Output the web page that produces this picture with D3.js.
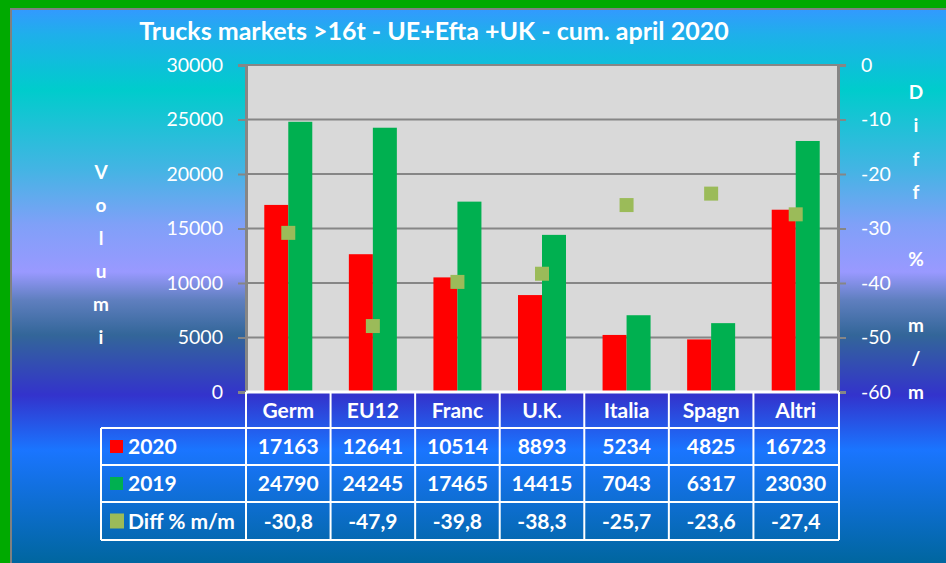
<!DOCTYPE html>
<html lang="en">
  <head>
    <meta charset="UTF-8" />
    <title>Trucks markets</title>
    <script src="https://cdn.jsdelivr.net/npm/d3@7/dist/d3.min.js"></script>
    <style>
      body { margin: 0; background: #00aa00; }
      svg { display: block; font-family: Lato, "Open Sans", sans-serif; }
    </style>
  </head>
  <body>
    <svg width="946" height="563"></svg>
    <script>
      // data
      const categories = ["Germ", "EU12", "Franc", "U.K.", "Italia", "Spagn", "Altri"];
      const vals2020 = [17163, 12641, 10514, 8893, 5234, 4825, 16723];
      const vals2019 = [24790, 24245, 17465, 14415, 7043, 6317, 23030];
      const diffPct = [-30.8, -47.9, -39.8, -38.3, -25.7, -23.6, -27.4];
      const diffLabels = ["-30,8", "-47,9", "-39,8", "-38,3", "-25,7", "-23,6", "-27,4"];
      const leftTicks = [0, 5000, 10000, 15000, 20000, 25000, 30000];
      const rightTicks = [0, -10, -20, -30, -40, -50, -60];

      const svg = d3.select("svg");
      const plot = { x0: 246, x1: 838, y0: 65, y1: 392 };

      // background gradient
      const defs = svg.append("defs");
      const grad = defs.append("linearGradient").attr("id", "bg")
        .attr("gradientUnits", "userSpaceOnUse")
        .attr("x1", 0).attr("y1", 9).attr("x2", 0).attr("y2", 563);
      [[9, "#3399ff"], [35, "#1eb0ea"], [90, "#00cccc"], [170, "#44b4e4"], [225, "#80a0f8"],
       [272, "#9999ff"], [300, "#5f7fbf"], [335, "#336699"], [395, "#3333cc"], [450, "#1a75ff"],
       [563, "#00669f"]].forEach(s => grad.append("stop").attr("offset", (s[0] - 9) / 554).attr("stop-color", s[1]));

      svg.append("rect").attr("x", 11).attr("y", 9).attr("width", 946).attr("height", 563)
        .attr("fill", "url(#bg)").attr("stroke", "#808080").attr("stroke-width", 2);

      // title
      svg.append("text").attr("x", 434).attr("y", 40).attr("text-anchor", "middle")
        .attr("fill", "#fff").attr("font-weight", "bold").attr("font-size", 25)
        .text("Trucks markets >16t - UE+Efta +UK - cum. april 2020");

      const x = d3.scaleBand().domain(categories).range([plot.x0, plot.x1]);
      const yL = d3.scaleLinear().domain([0, 30000]).range([plot.y1, plot.y0]);
      const yR = d3.scaleLinear().domain([-60, 0]).range([plot.y1, plot.y0]);

      svg.append("rect").attr("x", plot.x0).attr("y", plot.y0)
        .attr("width", plot.x1 - plot.x0).attr("height", plot.y1 - plot.y0).attr("fill", "#d9d9d9");

      // grid
      svg.append("g").selectAll("line").data(leftTicks.slice(1)).join("line")
        .attr("x1", plot.x0).attr("x2", plot.x1).attr("y1", d => yL(d)).attr("y2", d => yL(d))
        .attr("stroke", "#868686").attr("stroke-width", 2);

      // axes
      const axL = svg.append("g").attr("transform", `translate(${plot.x0},0)`)
        .call(d3.axisLeft(yL).tickValues(leftTicks).tickSize(8).tickPadding(15).tickFormat(d3.format("d")));
      const axR = svg.append("g").attr("transform", `translate(${plot.x1},0)`)
        .call(d3.axisRight(yR).tickValues(rightTicks).tickSize(8).tickPadding(15).tickFormat(d => d));
      [axL, axR].forEach(a => {
        a.select(".domain").attr("stroke", "#868686").attr("stroke-width", 3);
        a.selectAll(".tick line").attr("stroke", "#868686").attr("stroke-width", 2);
        a.selectAll("text").attr("fill", "#fff").attr("font-size", 19.5).attr("font-family", "Lato, sans-serif");
      });

      // bars
      const bw = 24;
      svg.append("g").selectAll("rect").data(vals2020).join("rect")
        .attr("x", (d, i) => x(categories[i]) + x.bandwidth() / 2 - bw)
        .attr("y", d => yL(d)).attr("width", bw).attr("height", d => plot.y1 - yL(d))
        .attr("fill", "#ff0000");
      svg.append("g").selectAll("rect").data(vals2019).join("rect")
        .attr("x", (d, i) => x(categories[i]) + x.bandwidth() / 2)
        .attr("y", d => yL(d)).attr("width", bw).attr("height", d => plot.y1 - yL(d))
        .attr("fill", "#00b050");

      // diff markers
      svg.append("g").selectAll("rect").data(diffPct).join("rect")
        .attr("x", (d, i) => x(categories[i]) + x.bandwidth() / 2 - 7)
        .attr("y", d => yR(d) - 7).attr("width", 14).attr("height", 14)
        .attr("fill", "#9bbb59");

      // axis titles, letters stacked
      svg.append("g").selectAll("text").data("Volumi".split("")).join("text")
        .attr("x", 101).attr("y", (d, i) => 179 + i * 33).attr("text-anchor", "middle")
        .attr("fill", "#fff").attr("font-weight", "bold").attr("font-size", 19).text(d => d);
      svg.append("g").selectAll("text").data("Diff % m/m".split("")).join("text")
        .attr("x", 916).attr("y", (d, i) => 99 + i * 33.3).attr("text-anchor", "middle")
        .attr("fill", "#fff").attr("font-weight", "bold").attr("font-size", 19).text(d => d);

      // data table
      const rowY = [392, 428, 465, 502, 540];
      const rows = [
        { label: "2020", color: "#ff0000", cells: vals2020.map(String) },
        { label: "2019", color: "#00b050", cells: vals2019.map(String) },
        { label: "Diff % m/m", color: "#9bbb59", cells: diffLabels }
      ];
      const tbl = svg.append("g");
      // horizontal lines
      tbl.selectAll("line.h").data(rowY).join("line").attr("class", "h")
        .attr("x1", (d, i) => i === 0 ? plot.x0 : 101).attr("x2", plot.x1 + 1)
        .attr("y1", d => d).attr("y2", d => d).attr("stroke", "#fff").attr("stroke-width", (d, i) => i === 0 ? 3 : 2);
      // vertical lines
      const vx = categories.map(c => x(c)).concat([plot.x1 + 1]);
      tbl.selectAll("line.v").data(vx).join("line").attr("class", "v")
        .attr("x1", d => d).attr("x2", d => d).attr("y1", rowY[0]).attr("y2", rowY[4])
        .attr("stroke", "#fff").attr("stroke-width", 2);
      tbl.append("line").attr("x1", 101).attr("x2", 101).attr("y1", rowY[1]).attr("y2", rowY[4])
        .attr("stroke", "#fff").attr("stroke-width", 2);

      tbl.selectAll("text.cat").data(categories).join("text").attr("class", "cat")
        .attr("x", d => x(d) + x.bandwidth() / 2).attr("y", (rowY[0] + rowY[1]) / 2 + 7.5)
        .attr("text-anchor", "middle").attr("fill", "#fff").attr("font-weight", "bold").attr("font-size", 21)
        .text(d => d);

      rows.forEach((r, ri) => {
        const cy = (rowY[ri + 1] + rowY[ri + 2]) / 2;
        const g = tbl.append("g");
        g.append("rect").attr("x", 110).attr("y", cy - 6.5 - (ri === 2 ? 1 : 0))
          .attr("width", ri === 2 ? 14 : 13).attr("height", ri === 2 ? 15 : 13).attr("fill", r.color);
        g.append("text").attr("x", 128).attr("y", cy + 7.5).attr("fill", "#fff")
          .attr("font-weight", "bold").attr("font-size", 21).text(r.label);
        g.selectAll("text.v").data(r.cells).join("text").attr("class", "v")
          .attr("x", (d, i) => x(categories[i]) + x.bandwidth() / 2).attr("y", cy + 7.5)
          .attr("text-anchor", "middle").attr("fill", "#fff").attr("font-weight", "bold").attr("font-size", 21)
          .text(d => d);
      });
    </script>
  </body>
</html>
